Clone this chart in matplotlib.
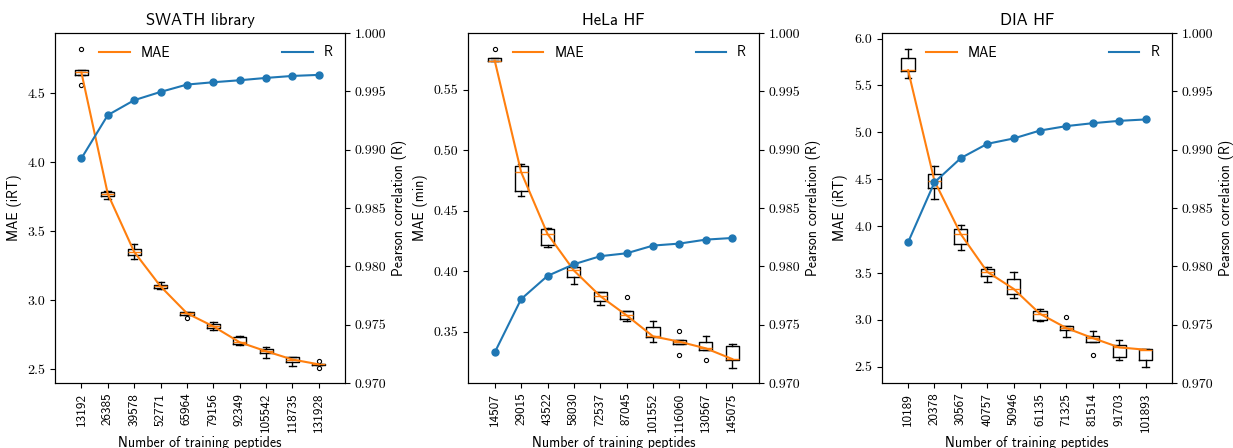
import matplotlib
matplotlib.use("Agg")
import matplotlib.pyplot as plt
from matplotlib.ticker import FormatStrFormatter
from matplotlib.lines import Line2D

# ---------------- data ----------------
titles = ["SWATH library", "HeLa HF", "DIA HF"]
ylabels = ["MAE (iRT)", "MAE (min)", "MAE (iRT)"]

swath_n = [13192, 26385, 39578, 52771, 65964, 79156, 92349, 105542, 118735, 131928]
swath_med = [4.65, 3.77, 3.35, 3.10, 2.905, 2.81, 2.695, 2.63, 2.57, 2.535]
swath_q1 = [4.63, 3.755, 3.33, 3.09, 2.895, 2.795, 2.685, 2.615, 2.555, 2.53]
swath_q3 = [4.67, 3.785, 3.37, 3.11, 2.915, 2.825, 2.735, 2.645, 2.585, 2.54]
swath_lo = [4.63, 3.735, 3.30, 3.08, 2.895, 2.785, 2.675, 2.58, 2.52, 2.53]
swath_hi = [4.67, 3.79, 3.41, 3.13, 2.915, 2.845, 2.74, 2.66, 2.59, 2.54]
swath_fl = [[4.82, 4.56], [], [], [], [2.87], [], [], [], [], [2.56, 2.51]]
swath_r = [0.98925, 0.99296, 0.99424, 0.99495, 0.99558, 0.99578, 0.99595, 0.99615, 0.99632, 0.99641]

hela_n = [14507, 29015, 43522, 58030, 72537, 87045, 101552, 116060, 130567, 145075]
hela_med = [0.5739, 0.4819, 0.4308, 0.4006, 0.3794, 0.3635, 0.3462, 0.3418, 0.3363, 0.3275]
hela_q1 = [0.5734, 0.4662, 0.4214, 0.3956, 0.3755, 0.3604, 0.3456, 0.3396, 0.3352, 0.3269]
hela_q3 = [0.5761, 0.4871, 0.4346, 0.4033, 0.3830, 0.3668, 0.3536, 0.3429, 0.3412, 0.3379]
hela_lo = [0.5734, 0.4624, 0.4203, 0.3893, 0.3720, 0.3585, 0.3415, 0.3396, 0.3352, 0.3201]
hela_hi = [0.5761, 0.4885, 0.4357, 0.4038, 0.3830, 0.3668, 0.3591, 0.3429, 0.3467, 0.3401]
hela_fl = [[0.5832], [], [], [], [], [0.3791], [], [0.3508, 0.3310], [0.3264], []]
hela_r = [0.97262, 0.97719, 0.97918, 0.98018, 0.98087, 0.98112, 0.98178, 0.98195, 0.98229, 0.98243]

dia_n = [10189, 20378, 30567, 40757, 50946, 61135, 71325, 81514, 91703, 101893]
dia_med = [5.663, 4.481, 3.913, 3.512, 3.330, 3.064, 2.912, 2.805, 2.706, 2.681]
dia_q1 = [5.652, 4.403, 3.806, 3.465, 3.274, 3.000, 2.887, 2.759, 2.603, 2.574]
dia_q3 = [5.794, 4.552, 3.966, 3.540, 3.433, 3.089, 2.929, 2.830, 2.734, 2.688]
dia_lo = [5.585, 4.285, 3.746, 3.401, 3.231, 2.983, 2.816, 2.759, 2.567, 2.493]
dia_hi = [5.890, 4.644, 4.009, 3.561, 3.515, 3.114, 2.929, 2.876, 2.780, 2.692]
dia_fl = [[], [], [], [], [], [], [3.025], [2.628], [], []]
dia_r = [0.98206, 0.98720, 0.98928, 0.99050, 0.99096, 0.99164, 0.99202, 0.99227, 0.99247, 0.99259]

panels = [
    (swath_n, swath_med, swath_q1, swath_q3, swath_lo, swath_hi, swath_fl, swath_r),
    (hela_n, hela_med, hela_q1, hela_q3, hela_lo, hela_hi, hela_fl, hela_r),
    (dia_n, dia_med, dia_q1, dia_q3, dia_lo, dia_hi, dia_fl, dia_r),
]
ylims = [(2.40, 4.935), (0.3077, 0.5967), (2.326, 6.06)]
yfmts = ["%.1f", "%.2f", "%.1f"]

# ---------------- plot ----------------
plt.rcParams["font.family"] = "cmss10"
plt.rcParams["axes.formatter.use_mathtext"] = True

fig, axes = plt.subplots(1, 3, figsize=(12.33, 4.48), dpi=100)
fig.subplots_adjust(left=0.0446, right=0.9505, bottom=1 - 383 / 448, top=1 - 33 / 448, wspace=0.424)

for i, ax in enumerate(axes):
    n, med, q1, q3, lo, hi, fl, r = panels[i]
    stats = []
    for k in range(len(n)):
        stats.append(dict(med=med[k], q1=q1[k], q3=q3[k], whislo=lo[k], whishi=hi[k],
                          fliers=fl[k], label=str(n[k])))
    pos = list(range(1, len(n) + 1))
    ax.bxp(stats, positions=pos, widths=0.5, showfliers=True,
           boxprops=dict(color="black", linewidth=1.0),
           whiskerprops=dict(color="black", linewidth=1.0),
           capprops=dict(color="black", linewidth=1.0),
           medianprops=dict(color="C1", linewidth=1.0),
           flierprops=dict(marker="o", markersize=3, markerfacecolor="none",
                           markeredgecolor="black", markeredgewidth=0.8))
    l1, = ax.plot(pos, med, color="C1", lw=1.5, label="MAE")
    ax.set_xlim(0, 11)
    ax.set_ylim(*ylims[i])
    ax.set_xticks(pos)
    ax.set_xticklabels([str(v) for v in n], rotation=90, fontsize=9.5, family="cmss10")
    ax.yaxis.set_major_formatter(FormatStrFormatter(yfmts[i]))
    ax.tick_params(axis="y", labelsize=10, labelfontfamily="cmr10")
    ax.set_xlabel("Number of training peptides", fontsize=10, labelpad=3)
    ax.set_ylabel(ylabels[i], fontsize=10)
    ax.set_title(titles[i], fontsize=12)
    ax.legend(handles=[l1], loc="upper left", bbox_to_anchor=(0.11, 1.0),
              frameon=False, fontsize=10, handlelength=2.2)

    ax2 = ax.twinx()
    ax2.plot(pos, r, color="C0", lw=1.5, marker="o", markersize=5)
    ax2.set_ylim(0.970, 1.000)
    ax2.yaxis.set_major_formatter(FormatStrFormatter("%.3f"))
    ax2.tick_params(axis="y", labelsize=10, labelfontfamily="cmr10")
    ax2.set_ylabel("Pearson correlation (R)", fontsize=10)
    r_handle = Line2D([], [], color="C0", lw=1.5, label="R")
    ax2.legend(handles=[r_handle], loc="upper right", frameon=False, fontsize=10, handlelength=2.2)

fig.savefig("out.png", dpi=100)
